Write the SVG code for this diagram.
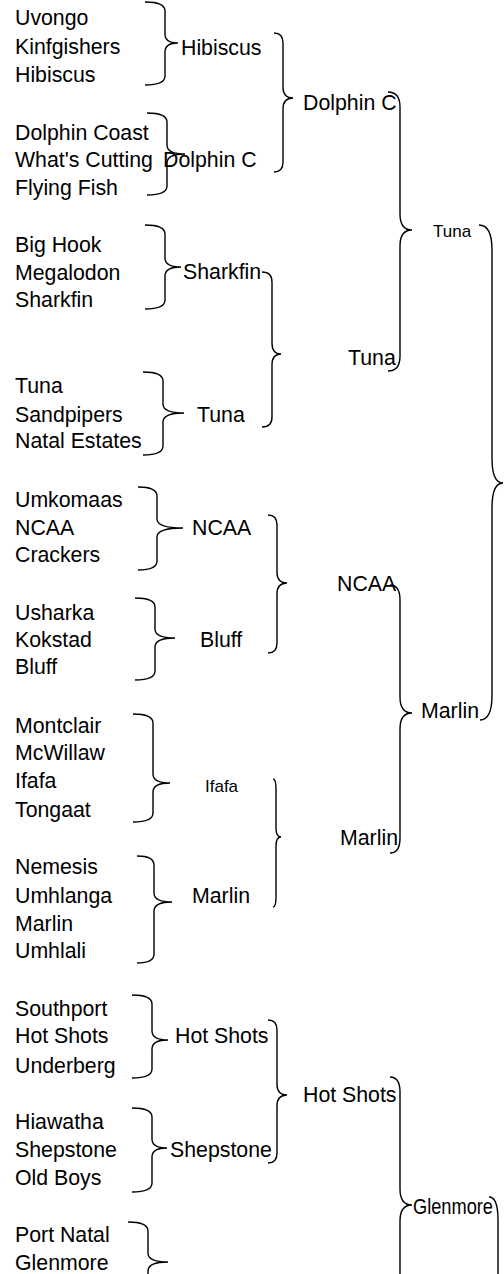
<svg xmlns="http://www.w3.org/2000/svg" width="504" height="1274" viewBox="0 0 504 1274">
<style>
text{font-family:"Liberation Sans",Arial,sans-serif;font-size:21.3px;fill:#000}
text.s{font-size:17px}
.br{fill:none;stroke:#000;stroke-width:1.4}
</style>
<rect width="504" height="1274" fill="#fff"/>
<g id="connectors">
<path class="br" d="M145,2 Q165,2 165,11 L165,34 Q165,43 178,43 Q165,43 165,52 L165,76 Q165,85 145,85"/>
<path class="br" d="M147,113 Q167,113 167,122 L167,145 Q167,154 185,154 Q167,154 167,163 L167,186 Q167,195 147,195"/>
<path class="br" d="M145,225 Q165,225 165,234 L165,258 Q165,267 181,267 Q165,267 165,276 L165,300 Q165,309 145,309"/>
<path class="br" d="M143,372 Q163,372 163,381 L163,404 Q163,413 184,413 Q163,413 163,422 L163,446 Q163,455 143,455"/>
<path class="br" d="M138,487 Q157,487 157,496 L157,519 Q157,528 183,528 Q157,528 157,537 L157,561 Q157,570 138,570"/>
<path class="br" d="M135,598 Q155,598 155,607 L155,629 Q155,638 175,638 Q155,638 155,647 L155,671 Q155,680 135,680"/>
<path class="br" d="M133,714 Q153,714 153,723 L153,774 Q153,783 170,783 Q153,783 153,792 L153,813 Q153,822 133,822"/>
<path class="br" d="M137,856 Q154,856 154,865 L154,893 Q154,902 172,902 Q154,902 154,911 L154,954 Q154,963 137,963"/>
<path class="br" d="M132,995 Q152,995 152,1004 L152,1031 Q152,1040 168,1040 Q152,1040 152,1049 L152,1069 Q152,1078 132,1078"/>
<path class="br" d="M132,1108 Q152,1108 152,1117 L152,1139 Q152,1148 167,1148 Q152,1148 152,1157 L152,1183 Q152,1192 132,1192"/>
<path class="br" d="M128,1222 Q148,1222 148,1231 L148,1253 Q148,1262 168,1262 Q148,1262 148,1271 L148,1295 Q148,1304 128,1304"/>
<path class="br" d="M274,33 Q283,33 283,43 L283,87 Q283,98 293,98 Q283,98 283,109 L283,162 Q283,172 274,172"/>
<path class="br" d="M262,272 Q272,272 272,282 L272,343 Q272,354 281,354 Q272,354 272,365 L272,417 Q272,427 262,427"/>
<path class="br" d="M268,515 Q277,515 277,525 L277,572 Q277,583 287,583 Q277,583 277,594 L277,643 Q277,653 268,653"/>
<path class="br" d="M273,779 Q276,779 276,789 L276,828 Q276,837 281,837 Q276,837 276,846 L276,897 Q276,907 273,907"/>
<path class="br" d="M268,1020 Q277,1020 277,1030 L277,1084 Q277,1095 287,1095 Q277,1095 277,1106 L277,1153 Q277,1163 268,1163"/>
<path class="br" d="M388,92 Q400,92 400,107 L400,214 Q400,230 412,230 Q400,230 400,246 L400,356 Q400,371 388,371"/>
<path class="br" d="M390,585 Q400,585 400,600 L400,697 Q400,713 412,713 Q400,713 400,729 L400,838 Q400,853 390,853"/>
<path class="br" d="M390,1077 Q400,1077 400,1092 L400,1189 Q400,1205 412,1205 Q400,1205 400,1221 L400,1330 Q400,1345 390,1345"/>
<path class="br" d="M479,225 Q492,225 492,250 L492,458 Q492,483 503,483 Q492,483 492,508 L492,695 Q492,720 480,720"/>
<path class="br" d="M489,1197 Q498,1197 498,1220 L498,1290"/>
</g>
<g id="group1"><text x="15" y="25">Uvongo</text><text x="15" y="54">Kinfgishers</text><text x="15" y="82">Hibiscus</text></g>
<g id="group2"><text x="15" y="140">Dolphin Coast</text><text x="15" y="167">What's Cutting</text><text x="15" y="195">Flying Fish</text></g>
<g id="group3"><text x="15" y="252">Big Hook</text><text x="15" y="280">Megalodon</text><text x="15" y="307">Sharkfin</text></g>
<g id="group4"><text x="15" y="393">Tuna</text><text x="15" y="422">Sandpipers</text><text x="15" y="448">Natal Estates</text></g>
<g id="group5"><text x="15" y="507">Umkomaas</text><text x="15" y="535">NCAA</text><text x="15" y="562">Crackers</text></g>
<g id="group6"><text x="15" y="620">Usharka</text><text x="15" y="647">Kokstad</text><text x="15" y="674">Bluff</text></g>
<g id="group7"><text x="15" y="733">Montclair</text><text x="15" y="760">McWillaw</text><text x="15" y="788">Ifafa</text><text x="15" y="817">Tongaat</text></g>
<g id="group8"><text x="15" y="874">Nemesis</text><text x="15" y="903">Umhlanga</text><text x="15" y="931">Marlin</text><text x="15" y="958">Umhlali</text></g>
<g id="group9"><text x="15" y="1016">Southport</text><text x="15" y="1043">Hot Shots</text><text x="15" y="1073">Underberg</text></g>
<g id="group10"><text x="15" y="1129">Hiawatha</text><text x="15" y="1157">Shepstone</text><text x="15" y="1185">Old Boys</text></g>
<g id="group11"><text x="15" y="1242">Port Natal</text><text x="15" y="1270">Glenmore</text></g>
<g id="r1-hibiscus"><text x="181" y="55">Hibiscus</text></g>
<g id="r1-dolphin"><text x="163" y="167">Dolphin C</text></g>
<g id="r1-sharkfin"><text x="183" y="279">Sharkfin</text></g>
<g id="r1-tuna"><text x="197" y="422">Tuna</text></g>
<g id="r1-ncaa"><text x="192" y="535">NCAA</text></g>
<g id="r1-bluff"><text x="200" y="647">Bluff</text></g>
<g id="r1-ifafa"><text class="s" x="205" y="792">Ifafa</text></g>
<g id="r1-marlin"><text x="192" y="903">Marlin</text></g>
<g id="r1-hotshots"><text x="175" y="1043">Hot Shots</text></g>
<g id="r1-shepstone"><text x="170" y="1157">Shepstone</text></g>
<g id="r2-dolphin"><text x="303" y="110">Dolphin C</text></g>
<g id="r2-tuna"><text x="348" y="365">Tuna</text></g>
<g id="r2-ncaa"><text x="337" y="591">NCAA</text></g>
<g id="r2-marlin"><text x="340" y="845">Marlin</text></g>
<g id="r2-hotshots"><text x="303" y="1102">Hot Shots</text></g>
<g id="r3-tuna"><text class="s" x="433" y="237">Tuna</text></g>
<g id="r3-marlin"><text x="421" y="718">Marlin</text></g>
<g id="r3-glenmore"><text x="413" y="1214" font-size="20" textLength="80" lengthAdjust="spacingAndGlyphs">Glenmore</text></g>
</svg>
